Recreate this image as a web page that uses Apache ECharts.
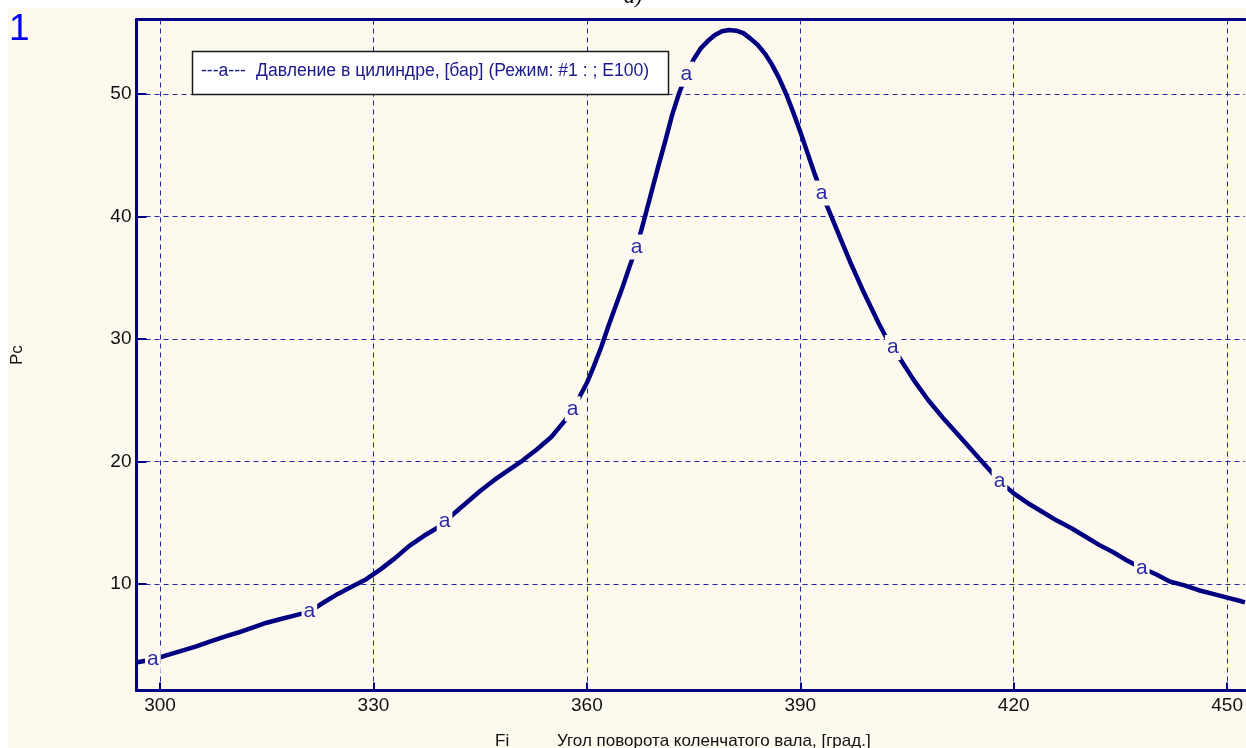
<!DOCTYPE html>
<html>
<head>
<meta charset="utf-8">
<script src="https://cdn.jsdelivr.net/npm/echarts@6/dist/echarts.min.js"></script>
<style>
  html, body { margin: 0; padding: 0; background: #ffffff; }
  #chart { width: 1246px; height: 748px; }
</style>
</head>
<body>
<div id="chart"></div>
<script>
// Crank angle, degrees
const fiDeg = [
  296.7, 297, 299, 301, 303, 305, 307, 309, 311, 313, 315, 317, 319, 321, 323, 325, 327, 329,
  331, 333, 335, 337, 339, 340, 341, 343, 345, 347, 349, 351, 353, 355, 357, 358, 359,
  360, 361, 362, 363, 364, 365, 366, 367, 368, 369, 370, 371, 372, 373, 374, 375, 376,
  377, 378, 379, 380, 381, 382, 383, 384, 385, 386, 387, 388, 389, 390, 391, 392, 393,
  394, 395, 396, 397, 398, 399, 400, 401, 402, 403, 404, 406, 408, 410, 412, 414, 416,
  418, 420, 422, 424, 426, 428, 430, 432, 434, 436, 438, 440, 442, 444, 446, 448, 450,
  452, 452.5
];
// Cylinder pressure, bar
const pcBar = [
  3.62, 3.65, 3.85, 4.2, 4.55, 4.9, 5.3, 5.7, 6.05, 6.45, 6.85, 7.15, 7.45, 7.75, 8.5, 9.2, 9.8, 10.4,
  11.2, 12.1, 13.1, 13.9, 14.6, 15.1, 15.6, 16.6, 17.6, 18.5, 19.3, 20.1, 21.0, 22.0, 23.4, 24.3, 25.3,
  26.4, 27.8, 29.3, 31.0, 32.6, 34.2, 35.9, 37.5, 39.6, 41.8, 44.0, 46.1, 48.3, 50.1, 51.6, 52.8, 53.7,
  54.3, 54.8, 55.1, 55.2, 55.15, 54.95, 54.5, 54.0, 53.3, 52.4, 51.3, 50.0, 48.5, 46.9, 45.2, 43.5, 41.9,
  40.5, 39.1, 37.7, 36.3, 35.0, 33.7, 32.5, 31.3, 30.2, 29.3, 28.4, 26.6, 25.0, 23.6, 22.3, 21.0, 19.7,
  18.4, 17.4, 16.6, 15.9, 15.2, 14.6, 13.9, 13.2, 12.6, 11.9, 11.3, 10.8, 10.2, 9.9, 9.5, 9.2, 8.9,
  8.6, 8.5
];
// Angles where the curve carries its "a" marker
const markAt = [299, 321, 340, 358, 367, 374, 393, 403, 418, 438];

const xTicks = [300, 330, 360, 390, 420, 450];
const yTicks = [10, 20, 30, 40, 50];

const seriesName = 'Давление в цилиндре, [бар] (Режим: #1 : ; E100)';
const xName = 'Угол поворота коленчатого вала, [град.]';

const NAVY = '#000080';
const GRIDC = '#2323b4';
const PAPER = '#fdf9ee';
const SANS = "'Liberation Sans', Arial, sans-serif";

const curve = fiDeg.map((f, i) => [f, pcBar[i]]);
const markers = markAt.map(f => [f, pcBar[fiDeg.indexOf(f)]]);

const chart = echarts.init(document.getElementById('chart'), null, { renderer: 'canvas' });

chart.setOption({
  animation: false,
  backgroundColor: PAPER,
  grid: { left: 136.5, right: 0, top: 19.5, bottom: 57.5 },
  xAxis: [
    {
      type: 'value',
      min: 296.7,
      max: 452.5,
      axisLine: { show: true, onZero: false, lineStyle: { color: NAVY, width: 3 } },
      axisTick: { show: true, inside: true, length: 8, customValues: xTicks, lineStyle: { color: NAVY, width: 2 } },
      axisLabel: {
        customValues: xTicks, margin: 6, color: '#111', fontSize: 19, fontFamily: SANS
      },
      splitLine: { show: true, lineStyle: { color: GRIDC, width: 1, type: [5, 4] } }
    },
    {
      type: 'value',
      position: 'top',
      min: 296.7,
      max: 452.5,
      axisLine: { show: true, onZero: false, lineStyle: { color: NAVY, width: 3 } },
      axisTick: { show: false },
      axisLabel: { show: false },
      splitLine: { show: false }
    }
  ],
  yAxis: {
    type: 'value',
    min: 1.32,
    max: 56.06,
    axisLine: { show: true, onZero: false, lineStyle: { color: NAVY, width: 3 } },
    axisTick: { show: true, inside: true, length: 10, customValues: yTicks, lineStyle: { color: NAVY, width: 2 } },
    axisLabel: {
      customValues: yTicks, margin: 5, color: '#111', fontSize: 19, fontFamily: SANS
    },
    splitLine: { show: true, lineStyle: { color: GRIDC, width: 1, type: [5, 4] } }
  },
  series: [
    {
      name: seriesName,
      type: 'line',
      data: curve,
      showSymbol: false,
      symbol: 'none',
      silent: true,
      z: 2,
      lineStyle: { color: NAVY, width: 4.5, join: 'round' }
    },
    {
      name: 'marks',
      type: 'scatter',
      data: markers,
      symbol: 'circle',
      symbolSize: 1,
      silent: true,
      z: 5,
      itemStyle: { color: PAPER, opacity: 1 },
      label: {
        show: true,
        position: 'inside',
        formatter: 'a',
        color: '#2b2ba6',
        fontSize: 21,
        fontFamily: SANS,
        backgroundColor: PAPER,
        padding: [3, 2, 4, 2],
        lineHeight: 18
      }
    }
  ],
  graphic: [
    // white margins round the plotting sheet
    { type: 'rect', silent: true, z: 50, shape: { x: 0, y: 0, width: 8, height: 748 }, style: { fill: '#ffffff' } },
    { type: 'rect', silent: true, z: 50, shape: { x: 0, y: 0, width: 1246, height: 8 }, style: { fill: '#ffffff' } },
    {
      type: 'text', silent: true, z: 60, left: 624, top: -14,
      style: { text: 'а)', fill: '#000', font: "italic 22px 'Liberation Serif', serif" }
    },
    {
      type: 'text', silent: true, z: 60, left: 9, top: 11,
      style: { text: '1', fill: '#0000ff', font: "37px " + SANS }
    },
    // legend box
    {
      type: 'rect', silent: true, z: 40,
      shape: { x: 192.5, y: 51.5, width: 476, height: 43 },
      style: { fill: '#ffffff', stroke: '#1a1a1a', lineWidth: 1.5 }
    },
    {
      type: 'text', silent: true, z: 41, left: 201, top: 62,
      style: { text: '---a---', fill: '#1a1a8c', font: "17.6px " + SANS }
    },
    {
      type: 'text', silent: true, z: 41, left: 256, top: 62,
      style: { text: seriesName, fill: '#1a1a8c', font: "17.6px " + SANS }
    },
    // axis names
    {
      type: 'text', silent: true, z: 41, x: 9, y: 365, rotation: Math.PI / 2,
      style: { text: 'Pc', fill: '#111', font: "17px " + SANS }
    },
    {
      type: 'text', silent: true, z: 41, left: 495, top: 733,
      style: { text: 'Fi', fill: '#111', font: "17px " + SANS }
    },
    {
      type: 'text', silent: true, z: 41, left: 557, top: 733,
      style: { text: xName, fill: '#111', font: "17px " + SANS }
    }
  ]
});
</script>
</body>
</html>
